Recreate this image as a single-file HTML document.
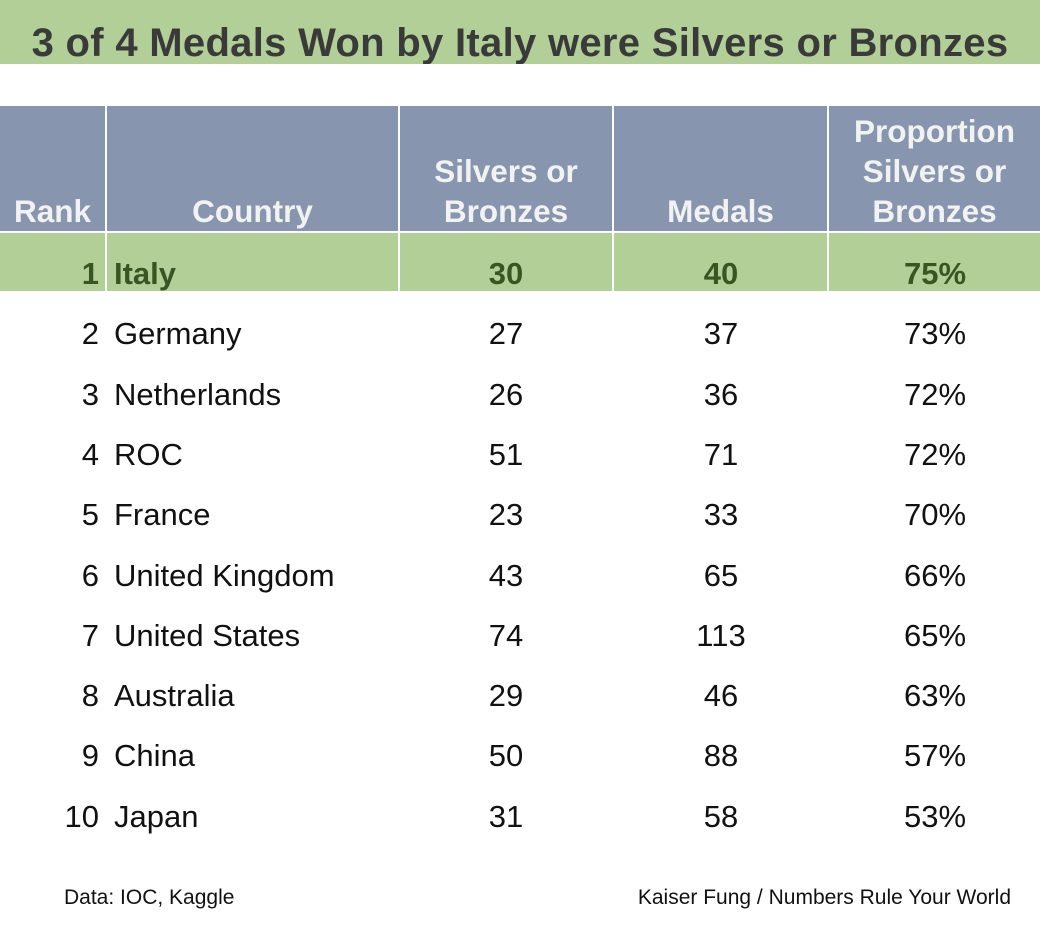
<!DOCTYPE html>
<html><head><style>
body{margin:0;width:1040px;height:946px;background:#fff;position:relative;font-family:"Liberation Sans",sans-serif;overflow:hidden}
.a{position:absolute}
.t{left:0;top:0;width:1040px;height:64px;background:#b1cf96;color:#3a3a3a;font-weight:bold;font-size:40px;text-align:center;line-height:86px;overflow:hidden;letter-spacing:0.3px}
.h{background:#8796ae;top:106px;height:125px}
.g{background:#b1cf96;top:233px;height:58px}
.ht{color:#f2f2f2;font-weight:bold;font-size:31.5px;line-height:40px;position:absolute;bottom:0px;left:0;right:0;text-align:center}
.r{position:absolute;font-size:31px;line-height:40px;color:#111}
.c{text-align:center;width:200px}
.f{font-size:21px;color:#111;position:absolute;top:886px}
</style></head><body>
<div class="a t">3 of 4 Medals Won by Italy were Silvers or Bronzes</div>
<div class="a h" style="left:0;width:105px"><div class="ht" style="text-align:right;right:14px">Rank</div></div>
<div class="a h" style="left:107px;width:291px"><div class="ht">Country</div></div>
<div class="a h" style="left:400px;width:212px"><div class="ht">Silvers or<br>Bronzes</div></div>
<div class="a h" style="left:614px;width:213px"><div class="ht">Medals</div></div>
<div class="a h" style="left:829px;width:211px"><div class="ht">Proportion<br>Silvers or<br>Bronzes</div></div>
<div class="a g" style="left:0;width:105px"></div>
<div class="a g" style="left:107px;width:291px"></div>
<div class="a g" style="left:400px;width:212px"></div>
<div class="a g" style="left:614px;width:213px"></div>
<div class="a g" style="left:829px;width:211px"></div>
<div id="rows"></div>
<div class="f" style="left:64px">Data: IOC, Kaggle</div>
<div class="f" style="right:29px">Kaiser Fung / Numbers Rule Your World</div>
<script>
var d=[["1","Italy","30","40","75%"],["2","Germany","27","37","73%"],["3","Netherlands","26","36","72%"],["4","ROC","51","71","72%"],["5","France","23","33","70%"],["6","United Kingdom","43","65","66%"],["7","United States","74","113","65%"],["8","Australia","29","46","63%"],["9","China","50","88","57%"],["10","Japan","31","58","53%"]];
var cy=[274,334,395,455,515,576,636,696,756,817],h="";
d.forEach(function(r,i){var t=cy[i]-20,s=i==0?"color:#375623;font-weight:bold;":"";
h+='<div class="r" style="'+s+'top:'+t+'px;right:'+(1040-99)+'px">'+r[0]+'</div>';
h+='<div class="r" style="'+s+'top:'+t+'px;left:114px">'+r[1]+'</div>';
h+='<div class="r c" style="'+s+'top:'+t+'px;left:406px">'+r[2]+'</div>';
h+='<div class="r c" style="'+s+'top:'+t+'px;left:621px">'+r[3]+'</div>';
h+='<div class="r c" style="'+s+'top:'+t+'px;left:835px">'+r[4]+'</div>';});
document.getElementById("rows").innerHTML=h;
</script>
</body></html>
